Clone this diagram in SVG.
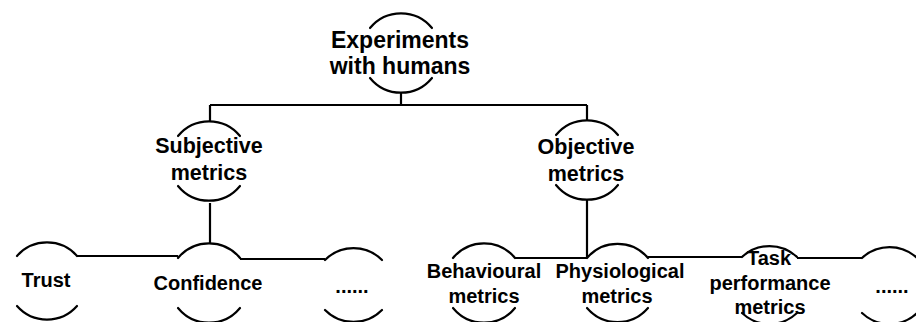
<svg xmlns="http://www.w3.org/2000/svg" width="916" height="322" viewBox="0 0 916 322">
<style>
.arc{fill:none;stroke:#000;stroke-width:2.2;stroke-linecap:round}
.conn{fill:none;stroke:#000;stroke-width:2.2}
text{font-family:"Liberation Sans",Arial,sans-serif;font-weight:bold;fill:#000;text-anchor:middle}
.t0{font-size:23px}
.t1{font-size:21.5px}
.t2{font-size:20px}
</style>
<rect width="916" height="322" fill="#fff"/>
<g id="connectors">
<path class="conn" d="M401,93 V105 M210,105 H587 M210,105 V122 M587,105 V121"/>
<path class="conn" d="M210,203 V243"/>
<path class="conn" d="M77,256 H178 M240,259 H325"/>
<path class="conn" d="M587,200 V258 M515,258 H587 M648,257 H742 M797,258 H862"/>
</g>
<g id="experiments">
<path class="arc" d="M370,28 A40,40 0 0 1 432,28 M370,78 A40,40 0 0 0 432,78"/>
<text class="t0" x="400" y="48">Experiments</text>
<text class="t0" x="400" y="74">with humans</text>
</g>
<g id="subjective">
<path class="arc" d="M178,136 A40,40 0 0 1 240,136 M178,186 A40,40 0 0 0 240,186"/>
<text class="t1" x="209" y="153">Subjective</text>
<text class="t1" x="209" y="180">metrics</text>
</g>
<g id="objective">
<path class="arc" d="M556,135 A40,40 0 0 1 618,135 M556,185 A40,40 0 0 0 618,185"/>
<text class="t1" x="586" y="154">Objective</text>
<text class="t1" x="586" y="181">metrics</text>
</g>
<g id="trust">
<path class="arc" d="M17,256 A40,40 0 0 1 77,256 M17,306 A40,40 0 0 0 77,306"/>
<text class="t2" x="46" y="287">Trust</text>
</g>
<g id="confidence">
<path class="arc" d="M178,258 A40,40 0 0 1 240,258 M178,308 A40,40 0 0 0 240,308"/>
<text class="t2" x="208" y="290">Confidence</text>
</g>
<g id="dots1">
<path class="arc" d="M325,260 A40,40 0 0 1 382,260 M325,310 A40,40 0 0 0 382,310"/>
<text class="t2" x="352" y="293">......</text>
</g>
<g id="behavioural">
<path class="arc" d="M453,258 A40,40 0 0 1 515,258 M453,308 A40,40 0 0 0 515,308"/>
<text class="t2" x="484" y="278">Behavioural</text>
<text class="t2" x="484" y="303">metrics</text>
</g>
<g id="physiological">
<path class="arc" d="M587,258 A40,40 0 0 1 648,258 M587,308 A40,40 0 0 0 648,308"/>
<text class="t2" x="620" y="278">Physiological</text>
<text class="t2" x="617" y="303">metrics</text>
</g>
<g id="task">
<path class="arc" d="M742,257 A40,40 0 0 1 797,257 M742,313 A40,40 0 0 0 797,313"/>
<text class="t2" x="769" y="265">Task</text>
<text class="t2" x="770" y="290">performance</text>
<text class="t2" x="770" y="314">metrics</text>
</g>
<g id="dots2">
<path class="arc" d="M862,258 A40,40 0 0 1 917,258 M862,313 A40,40 0 0 0 917,313"/>
<text class="t2" x="892" y="293">......</text>
</g>
</svg>
